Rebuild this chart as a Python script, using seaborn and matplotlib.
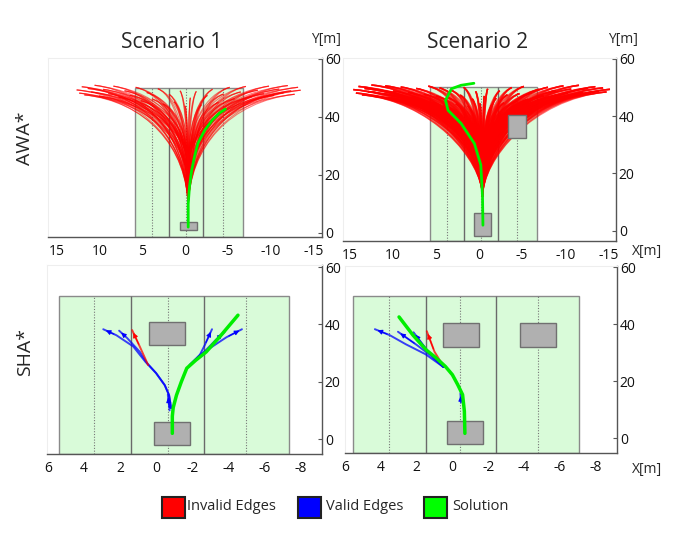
import matplotlib
matplotlib.use('Agg')
import matplotlib.pyplot as plt
import seaborn as sns
import pandas as pd
from matplotlib.path import Path
from matplotlib.patches import PathPatch, Rectangle

sns.set_theme(style='white')
plt.rcParams['font.family'] = ['Open Sans', 'DejaVu Sans']
plt.rcParams['axes.unicode_minus'] = False

# ---- data ----
top_xticks = [15, 10, 5, 0, -5, -10, -15]
bot_xticks = [6, 4, 2, 0, -2, -4, -6, -8]
yticks = [0, 20, 40, 60]

# lanes: boundaries and centre lines (x), road ends at y=50
s1_top_edges = [5.9, 1.9, -2.1, -6.8]
s1_top_centers = [3.9, -0.1, -4.4]
s2_top_edges = [5.65, 1.73, -2.2, -6.7]
s2_top_centers = [3.7, -0.2, -4.4]
s1_bot_edges = [5.4, 1.38, -2.66, -7.36]
s1_bot_centers = [3.43, -0.66, -5.0]
s2_bot_edges = [5.55, 1.5, -2.44, -7.1]
s2_bot_centers = [3.55, -0.44, -4.8]
road_end = 50

# boxes (x_left, x_right, y_bottom, y_top)
s1_top_boxes = [(0.6, -1.4, 1.0, 3.8)]
s2_top_boxes = [(0.6, -1.4, -1.7, 6.2), (-3.4, -5.4, 32.5, 40.5)]
s1_bot_boxes = [(0.1, -1.9, -2, 6), (0.4, -1.6, 32.8, 40.8)]
s2_bot_boxes = [(0.3, -1.7, -2, 6), (0.55, -1.5, 32, 40.4), (-3.8, -5.8, 32, 40.4)]

# AWA* invalid edges: trunk x, heights where edges leave the trunk, end points
s1_red_x0 = -0.35
s1_red_branch_y = [8, 15, 22]
s1_red_x = [12.7, 12.4, 12.1, 11.8, 11.4, 11.0, 10.6, 10.1, 9.6, 9.0,
            8.4, 7.8, 7.1, 6.5, 5.8, 5.2, 4.5, 3.9, 3.2, 2.6,
            1.9, 1.3, 0.6, 0.0, -0.6, -1.3, -1.9, -2.6, -3.2, -3.9,
            -4.5, -5.2, -5.8, -6.5, -7.1, -7.8, -8.5, -9.2, -9.8, -10.4,
            -11.0, -11.5, -12.0, -12.4, -12.8, -13.2, -13.5]
s1_red_y = [49.3, 48.2, 50.4, 47.6, 49.8, 48.6, 50.9, 47.2, 49.5, 48.0,
            50.6, 46.8, 49.0, 47.5, 50.2, 45.6, 48.4, 46.2, 49.7, 44.5,
            47.8, 45.2, 49.0, 43.8, 46.6, 48.8, 44.2, 47.4, 49.5, 45.0,
            47.9, 50.2, 46.3, 48.6, 50.5, 47.0, 49.2, 48.0, 50.6, 47.4,
            49.6, 48.3, 50.8, 49.0, 47.8, 50.2, 49.2]

s2_red_x0 = -0.4
s2_red_branch_y = [12, 16, 20, 24, 28]
s2_red_x = [14.6, 14.3, 14.0, 13.6, 13.3, 12.9, 12.5, 12.1, 11.8, 11.3,
            10.9, 10.5, 10.0, 9.6, 9.1, 8.7, 8.2, 7.8, 7.3, 6.8,
            6.4, 5.9, 5.5, 5.0, 4.6, 4.1, 3.6, 3.2, 2.7, 2.2,
            1.8, 1.3, 0.8, 0.4, -0.1, -0.6, -1.0, -1.5, -2.0, -2.4,
            -2.9, -3.3, -3.8, -4.3, -4.7, -5.2, -5.7, -6.1, -6.6, -7.0,
            -7.5, -8.0, -8.4, -8.9, -9.3, -9.8, -10.3, -10.7, -11.2, -11.6,
            -12.1, -12.6, -13.0, -13.5, -13.9, -14.4, -14.8, -15.2]
s2_red_y = [49.2, 48.0, 50.3, 47.4, 49.6, 48.5, 50.8, 46.9, 49.1, 47.8,
            50.5, 46.4, 48.7, 47.2, 50.1, 45.8, 48.2, 46.6, 49.6, 45.0,
            47.6, 50.4, 44.6, 47.0, 49.8, 43.8, 46.4, 48.9, 44.2, 47.3,
            50.0, 43.5, 46.0, 48.6, 44.4, 47.0, 49.5, 43.9, 46.2, 48.8,
            44.6, 47.4, 49.9, 45.2, 47.8, 50.3, 45.8, 48.1, 46.4, 49.3,
            47.0, 50.0, 46.6, 48.8, 47.4, 50.5, 48.0, 49.4, 47.5, 50.7,
            48.2, 49.6, 47.9, 50.2, 48.6, 49.8, 48.4, 49.3]

# solutions (green)
s1_top_sol_x = [-0.35, -0.35, -0.5, -0.75, -1.1, -1.5, -2.3, -3.2, -4.0, -4.7]
s1_top_sol_y = [2, 10, 16, 21.5, 26.5, 31, 35.5, 39, 41.3, 42.7]
s2_top_sol_x = [-0.45, -0.4, -0.2, 0.54, 2.08, 3.6, 3.9, 3.2, 2.1, 0.6]
s2_top_sol_y = [2, 12, 23, 30.4, 37.4, 42, 45.5, 49.5, 50.7, 51.4]
s1_bot_sol_x = [-0.9, -0.9, -0.95, -1.13, -1.4, -1.7, -2.2, -2.78, -3.6, -4.54]
s1_bot_sol_y = [2, 8, 11, 15.3, 20, 24.7, 27.5, 30.4, 36.2, 43.2]
s2_bot_sol_x = [-0.7, -0.67, -0.57, -0.3, 0.0, 0.39, 0.91, 1.46, 2.2, 2.98]
s2_bot_sol_y = [1.7, 9.5, 15.3, 18.8, 22.3, 25.2, 28.2, 31.0, 36.2, 42.6]

# SHA* edges (x list, y list, kind)
s1_bot_edges_list = [
    ([-0.83, -0.72, -0.48, 0.0, 0.6, 1.27, 2.2, 2.93], [10.8, 15.3, 18.8, 23, 27, 32.3, 36.2, 38.3], 'valid'),
    ([-0.83, -0.72, -0.48, 0.0, 0.5, 0.9, 1.6, 2.05], [10.8, 15.3, 18.8, 23, 26.5, 30.4, 35.2, 37.8], 'valid'),
    ([-0.75, -0.65], [10.0, 15.5], 'valid'),
    ([-1.86, -2.42, -2.7, -3.1], [25.8, 29.3, 32.8, 38.3], 'valid'),
    ([-1.86, -2.42, -3.2, -3.9, -4.76], [25.8, 29.3, 32.6, 35.5, 38.3], 'valid'),
    ([-1.86, -2.6, -3.3, -3.8], [25.8, 30.0, 34.5, 37.3], 'valid'),
    ([0.44, 0.9, 1.33], [25.8, 32.2, 38.0], 'invalid'),
]
s2_bot_edges_list = [
    ([0.5, 1.5, 2.6, 3.5, 4.33], [25.0, 29.5, 33.0, 36.2, 38.3], 'valid'),
    ([0.5, 1.2, 2.0, 3.04], [25.0, 29.0, 32.8, 37.4], 'valid'),
    ([0.5, 1.3, 2.17], [25.0, 30.0, 37.2], 'valid'),
    ([-0.48, -0.45], [12.5, 15.8], 'valid'),
    ([0.55, 1.0, 1.43], [25.8, 30.4, 37.6], 'invalid'),
]

legend_labels = ['Invalid Edges', 'Valid Edges', 'Solution']
edge_colors = {'invalid': '#ff0000', 'valid': '#0000ff', 'solution': '#00ee00'}

W, H = 680, 539
fig = plt.figure(figsize=(W / 100, H / 100), dpi=100)


def px_axes(l, t, r, b):
    return fig.add_axes([l / W, 1 - b / H, (r - l) / W, (b - t) / H])


def road(ax, edges, centers, boxes, ybot):
    ax.add_patch(Rectangle((edges[-1], ybot), edges[0] - edges[-1], road_end - ybot,
                           fc='#d9fbd9', ec='#8a8a8a', lw=1.0, zorder=1))
    ax.vlines(edges[1:-1], ybot, road_end, colors='#6a6a6a', lw=1.0, zorder=1.5)
    ax.vlines(centers, ybot, road_end, colors='#777777', lw=0.8,
              linestyles=(0, (1, 1.5)), zorder=1.5)
    for xl, xr, yb, yt in boxes:
        ax.add_patch(Rectangle((xr, yb), xl - xr, yt - yb, fc='#b0b0b0',
                               ec='#707070', lw=1.0, zorder=4))


def fan(ax, x0, branch_y, xs, ys, lw, alpha, bend):
    for y0 in branch_y:
        for ex, ey in zip(xs, ys):
            verts = [(x0, y0), (x0, y0 + bend * (ey - y0)),
                     (x0 + 0.4 * (ex - x0), ey - 2.5), (ex, ey)]
            path = Path(verts, [Path.MOVETO, Path.CURVE4, Path.CURVE4, Path.CURVE4])
            ax.add_patch(PathPatch(path, fill=False, ec='#ff0000', lw=lw,
                                   alpha=alpha, zorder=3))


def solution(ax, xs, ys, lw):
    df = pd.DataFrame({'x': xs, 'y': ys})
    sns.lineplot(data=df, x='x', y='y', sort=False, estimator=None,
                 color=edge_colors['solution'], lw=lw, ax=ax, zorder=6)


def edges(ax, edge_list):
    for xs, ys, kind in edge_list:
        c = edge_colors[kind]
        ax.plot(xs, ys, color=c, lw=1.4, alpha=0.75, zorder=5)
        ax.annotate('', xy=(xs[-1], ys[-1]), xytext=(xs[-2], ys[-2]),
                    arrowprops=dict(arrowstyle='-|>', color=c, lw=0.8,
                                    mutation_scale=7), zorder=5)


def style(ax, xlim, ylim, xticks):
    ax.set_xlim(*xlim)
    ax.set_ylim(*ylim)
    ax.set_xticks(xticks)
    ax.set_yticks(yticks)
    ax.yaxis.tick_right()
    ax.set_xlabel('')
    ax.set_ylabel('')
    ax.tick_params(axis='both', direction='in', length=3, width=0.8,
                   color='#555555', labelsize=10, labelcolor='#111111')
    ax.tick_params(axis='x', pad=5)
    ax.tick_params(axis='y', pad=2)
    for s in ['top', 'left']:
        ax.spines[s].set_color('#eeeeee')
        ax.spines[s].set_linewidth(0.8)
    for s in ['bottom', 'right']:
        ax.spines[s].set_color('#555555')
        ax.spines[s].set_linewidth(1.0)
    ax.set_facecolor('white')


# AWA*, scenario 1
ax1 = px_axes(48, 58, 322, 237)
road(ax1, s1_top_edges, s1_top_centers, s1_top_boxes, -1.4)
fan(ax1, s1_red_x0, s1_red_branch_y, s1_red_x, s1_red_y, 0.8, 0.5, 0.55)
solution(ax1, s1_top_sol_x, s1_top_sol_y, 2.0)
style(ax1, (16.05, -16.0), (-1.4, 60.3), top_xticks)

# AWA*, scenario 2
ax2 = px_axes(343, 58, 616, 241)
road(ax2, s2_top_edges, s2_top_centers, s2_top_boxes, -3.5)
fan(ax2, s2_red_x0, s2_red_branch_y, s2_red_x, s2_red_y, 1.1, 0.55, 0.35)
solution(ax2, s2_top_sol_x, s2_top_sol_y, 2.0)
style(ax2, (15.8, -15.9), (-3.5, 60.2), top_xticks)

# SHA*, scenario 1
ax3 = px_axes(47, 265, 322, 454)
road(ax3, s1_bot_edges, s1_bot_centers, s1_bot_boxes, -5.2)
edges(ax3, s1_bot_edges_list)
solution(ax3, s1_bot_sol_x, s1_bot_sol_y, 2.5)
style(ax3, (6.05, -9.2), (-5.2, 60.7), bot_xticks)

# SHA*, scenario 2
ax4 = px_axes(345, 266, 617, 453)
road(ax4, s2_bot_edges, s2_bot_centers, s2_bot_boxes, -5.2)
edges(ax4, s2_bot_edges_list)
solution(ax4, s2_bot_sol_x, s2_bot_sol_y, 2.5)
style(ax4, (5.9, -9.2), (-5.2, 60.5), bot_xticks)

# titles and axis names
fig.text(172 / W, 1 - 42 / H, 'Scenario 1', ha='center', va='center', fontsize=15)
fig.text(478 / W, 1 - 42 / H, 'Scenario 2', ha='center', va='center', fontsize=15)
fig.text(326 / W, 1 - 40 / H, 'Y[m]', ha='center', va='center', fontsize=10)
fig.text(623 / W, 1 - 40 / H, 'Y[m]', ha='center', va='center', fontsize=10)
fig.text(647 / W, 1 - 251 / H, 'X[m]', ha='center', va='center', fontsize=10)
fig.text(647 / W, 1 - 469 / H, 'X[m]', ha='center', va='center', fontsize=10)
fig.text(25 / W, 1 - 138 / H, 'AWA*', ha='center', va='center', rotation=90, fontsize=14)
fig.text(25 / W, 1 - 352 / H, 'SHA*', ha='center', va='center', rotation=90, fontsize=14)

# legend
for (bx, tx), lab, key in zip([(162, 187), (298, 326), (424, 452)], legend_labels,
                              ['invalid', 'valid', 'solution']):
    c = '#00ff00' if key == 'solution' else edge_colors[key]
    fig.patches.append(Rectangle((bx / W, 1 - 518 / H), 23 / W, 21 / H, fc=c,
                                 ec='#222222', lw=1.5, transform=fig.transFigure))
    fig.text(tx / W, 1 - 507 / H, lab, ha='left', va='center', fontsize=10.5)

fig.savefig('out.png', dpi=100)
